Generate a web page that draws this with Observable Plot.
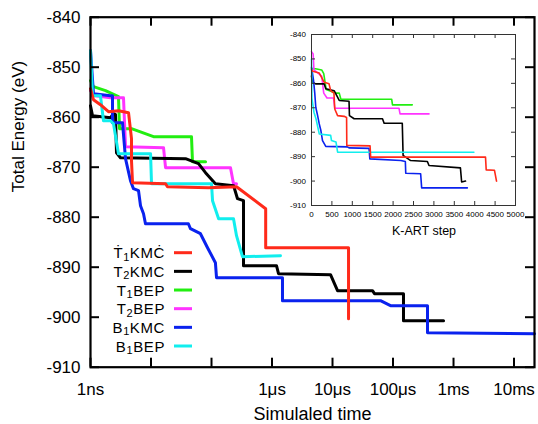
<!DOCTYPE html>
<html><head><meta charset="utf-8">
<script src="https://cdn.jsdelivr.net/npm/d3@7"></script>
<script src="https://cdn.jsdelivr.net/npm/@observablehq/plot@0.6"></script>
<style>
body{margin:0;background:#fff;}
#wrap{position:relative;width:538px;height:424px;font-family:"Liberation Sans",Arial,sans-serif;}
#wrap svg{position:absolute;overflow:visible;}
</style></head><body><div id="wrap"></div>
<script>
// ---------- data ----------
const seriesKeys   = ["T1KMC","T2KMC","T1BEP","T2BEP","B1KMC","B1BEP"];
const seriesColors = ["#ff2a1a","#000000","#22ee11","#ff33ff","#0a22ee","#11eeee"];
const legendHead   = ["Ṫ","T","T","T","B","B"];
const legendSub    = ["1","2","1","2","1","1"];
const legendTail   = ["KMĊ","KMC","BEP","BEP","KMC","BEP"];

// main panel: [simulated time (ns), total energy (eV)]
const t1kmcMain = [[1,-854.3],[1.12,-856.5],[1.46,-857.5],[1.98,-858.9],[2.9,-858.7],[4.25,-859.1],[4.76,-864.3],[4.76,-868.7],[4.95,-873.1],[17.4,-873.3],[18.7,-873.9],[89,-874.1],[259,-873.9],[786,-878.3],[786,-886.1],[18400,-886.1],[18400,-900.3]];
const t2kmcMain = [[1,-857.7],[1.08,-859.7],[2.14,-860.1],[2.4,-859.3],[2.59,-859.5],[2.69,-867.1],[3.13,-868.1],[37.2,-868.3],[61,-869.3],[79.6,-871.1],[116,-873.3],[232,-873.7],[269,-876.3],[338,-876.7],[338,-889.7],[1186,-889.7],[1281,-891.3],[9270,-891.5],[12100,-894.7],[45800,-894.7],[49400,-895.3],[149000,-895.3],[149000,-900.7],[684000,-900.7]];
const t1bepMain = [[1,-852.7],[1.12,-853.9],[1.77,-854.7],[2.9,-855.9],[3.02,-862.3],[4.76,-862.3],[11,-863.9],[46.7,-863.9],[48.5,-868.9],[79.6,-868.9]];
const t2bepMain = [[1,-854.7],[1.21,-855.7],[2.14,-856.1],[3.51,-856.1],[3.79,-865.9],[16.1,-866.1],[17.4,-870.1],[206,-870.1],[231,-873.3],[259,-873.3]];
const b1kmcMain = [[1,-846.7],[1.12,-855.3],[2.14,-855.7],[2.31,-855.7],[2.31,-861.1],[3.38,-861.1],[3.79,-868.3],[4.58,-872.7],[5.13,-874.3],[6.22,-874.7],[6.71,-877.7],[7.52,-879.3],[8.1,-881.3],[41.5,-881.3],[44.9,-882.3],[65.7,-883.3],[86,-886.1],[116,-889.1],[121,-892.1],[1490,-892.1],[1490,-896.7],[62100,-896.7],[90900,-897.7],[371600,-897.7],[371600,-903.1],[21800000,-903.3]];
const b1bepMain = [[1,-846.7],[1.08,-855.7],[1.46,-855.7],[1.64,-860.7],[2.14,-860.7],[2.4,-861.3],[2.9,-867.3],[9.83,-867.3],[10.2,-873.3],[100,-873.3],[104,-876.7],[131,-880.3],[231,-880.3],[259,-883.7],[325,-887.9],[1381,-887.7]];

// inset: [K-ART step, total energy (eV)]
const t1kmcInset = [[0,-854.5],[30,-855],[190,-855.8],[310,-859.5],[430,-860.2],[470,-863],[550,-864],[570,-870.5],[640,-873.2],[800,-873.5],[860,-874],[865,-885.4],[1435,-885.6],[1450,-890.2],[4265,-890.2],[4282,-895.4],[4485,-895.6],[4535,-900]];
const t2kmcInset = [[0,-857],[25,-859.5],[100,-860.2],[310,-860.2],[350,-862.2],[555,-863],[680,-867],[920,-867.3],[930,-873.2],[1045,-874.5],[1740,-874.5],[1780,-876.3],[2225,-876.3],[2245,-889.5],[2430,-891.6],[2840,-892],[2880,-893.6],[3650,-894.6],[3680,-900.4],[3775,-900]];
const t1bepInset = [[0,-854],[100,-854],[250,-854.5],[300,-856],[360,-862.5],[600,-864],[680,-864],[720,-866.5],[1965,-866.5],[1985,-868.8],[2470,-868.8]];
const t2bepInset = [[0,-847],[40,-848],[60,-854.5],[250,-857],[300,-864],[380,-866],[540,-866],[570,-870.2],[2145,-870.2],[2170,-872.5],[2880,-872.5]];
const b1kmcInset = [[0,-853.4],[50,-858.8],[80,-864],[105,-869.8],[150,-873.2],[190,-876.6],[230,-879.3],[270,-883.4],[350,-885.8],[880,-886],[920,-886.4],[1410,-886.6],[1430,-890.9],[2190,-891.6],[2300,-892],[2310,-896.8],[2675,-897],[2700,-902.8],[3820,-902.8]];
const b1bepInset = [[0,-850],[10,-866],[60,-871.8],[110,-874.5],[190,-880.7],[470,-881.3],[490,-883.4],[600,-884],[640,-888.2],[3980,-888.2]];

// ticks
const mainXTicks  = [1,10,100,1e3,1e4,1e5,1e6,1e7];
const mainXLabelVals = [1,1e3,1e4,1e5,1e6,1e7];
const mainXLabels = ["1ns","1μs","10μs","100μs","1ms","10ms"];
const mainYTicks  = [-910,-900,-890,-880,-870,-860,-850,-840];
const insetXTicks = [0,500,1000,1500,2000,2500,3000,3500,4000,4500,5000];
const insetYTicks = [-910,-900,-890,-880,-870,-860,-850,-840];

// ---------- main panel ----------
const mainSeries = [t1kmcMain,t2kmcMain,t1bepMain,t2bepMain,b1kmcMain,b1bepMain];
const insetSeries = [t1kmcInset,t2kmcInset,t1bepInset,t2bepInset,b1kmcInset,b1bepInset];
const drawOrder = [2,3,1,4,5,0];

const W = 538, H = 424;
const mL = 90, mT = 16.7, mR = 4, mB = 57.3;
const iW = W - mL - mR, iH = H - mT - mB;
const xLabelMap = new Map(mainXLabelVals.map((v,i)=>[v,mainXLabels[i]]));
const font = "Liberation Sans, Arial, sans-serif";

const main = Plot.plot({
  width: W, height: H, marginLeft: mL, marginTop: mT, marginRight: mR, marginBottom: mB,
  style: {fontFamily: font, background: "transparent", color: "#000"},
  x: {type: "log", domain: [1, 2.18e7]},
  y: {domain: [-910, -840]},
  marks: [
    ...drawOrder.map(i => Plot.line(mainSeries[i], {x: d=>d[0], y: d=>d[1], stroke: seriesColors[i], strokeWidth: 3})),
    Plot.ruleX(mainXTicks, {x: d=>d, insetTop: iH - 9, strokeWidth: 2}),
    Plot.ruleX(mainXTicks, {x: d=>d, insetBottom: iH - 9, strokeWidth: 2}),
    Plot.ruleY(mainYTicks, {y: d=>d, insetRight: iW - 9, strokeWidth: 2}),
    Plot.ruleY(mainYTicks, {y: d=>d, insetLeft: iW - 9, strokeWidth: 2}),
    Plot.frame({stroke: "#000", strokeWidth: 2.2}),
    Plot.axisX(mainXLabelVals, {tickSize: 0, tickPadding: 16, fontSize: 17, label: null, tickFormat: d => xLabelMap.get(d)}),
    Plot.axisY(mainYTicks, {tickSize: 0, tickPadding: 10, fontSize: 17, label: null, tickFormat: d => String(d)}),
    Plot.text(["Simulaled time"], {text: d=>d, frameAnchor: "bottom", dy: 53, fontSize: 18}),
    Plot.text(["Total Energy (eV)"], {text: d=>d, frameAnchor: "left", dx: -72, rotate: -90, fontSize: 17})
  ]
});
main.style.left = "0px"; main.style.top = "0px";
document.getElementById("wrap").appendChild(main);

// legend inside the main panel
const lg = d3.select(main).append("g").attr("font-family", font).attr("font-size", 15).attr("letter-spacing", "0.6px");
seriesKeys.forEach((k,i) => {
  const yy = 252.7 + i*18.66;
  const t = lg.append("text").attr("x", 165).attr("y", yy + 5.5).attr("text-anchor", "end").attr("fill", "#000");
  t.append("tspan").text(legendHead[i]);
  t.append("tspan").attr("font-size", 11).attr("dy", 2.5).text(legendSub[i]);
  t.append("tspan").attr("dy", -2.5).text(legendTail[i]);
  lg.append("line").attr("x1", 174).attr("x2", 192).attr("y1", yy).attr("y2", yy)
    .attr("stroke", seriesColors[i]).attr("stroke-width", 3);
});

// ---------- inset ----------
const iml = 30, imt = 6, imr = 10, imb = 40;
const insW = 244, insH = 217;
const iiW = insW - iml - imr, iiH = insH - imt - imb;
const inset = Plot.plot({
  width: insW, height: insH, marginLeft: iml, marginTop: imt, marginRight: imr, marginBottom: imb,
  style: {fontFamily: font, background: "transparent", color: "#000"},
  x: {domain: [0, 5000]},
  y: {domain: [-910, -840]},
  marks: [
    Plot.frame({fill: "#fff", stroke: null}),
    ...drawOrder.map(i => Plot.line(insetSeries[i], {x: d=>d[0], y: d=>d[1], stroke: seriesColors[i], strokeWidth: 1.6})),
    Plot.ruleX(insetXTicks, {x: d=>d, insetTop: iiH - 4, stroke: "#333"}),
    Plot.ruleX(insetXTicks, {x: d=>d, insetBottom: iiH - 4, stroke: "#333"}),
    Plot.ruleY(insetYTicks, {y: d=>d, insetRight: iiW - 4, stroke: "#333"}),
    Plot.ruleY(insetYTicks, {y: d=>d, insetLeft: iiW - 4, stroke: "#333"}),
    Plot.frame({stroke: "#333", strokeWidth: 1}),
    Plot.axisX(insetXTicks, {tickSize: 0, tickPadding: 5.5, fontSize: 8, label: null, tickFormat: d => String(d)}),
    Plot.axisY(insetYTicks, {tickSize: 0, tickPadding: 5.5, fontSize: 8, label: null, tickFormat: d => String(d)}),
    Plot.text(["K-ART step"], {text: d=>d, frameAnchor: "bottom", dy: 29, dx: 10.5, fontSize: 12.5})
  ]
});
inset.style.left = "280.7px"; inset.style.top = "28px";
document.getElementById("wrap").appendChild(inset);
</script></body></html>
